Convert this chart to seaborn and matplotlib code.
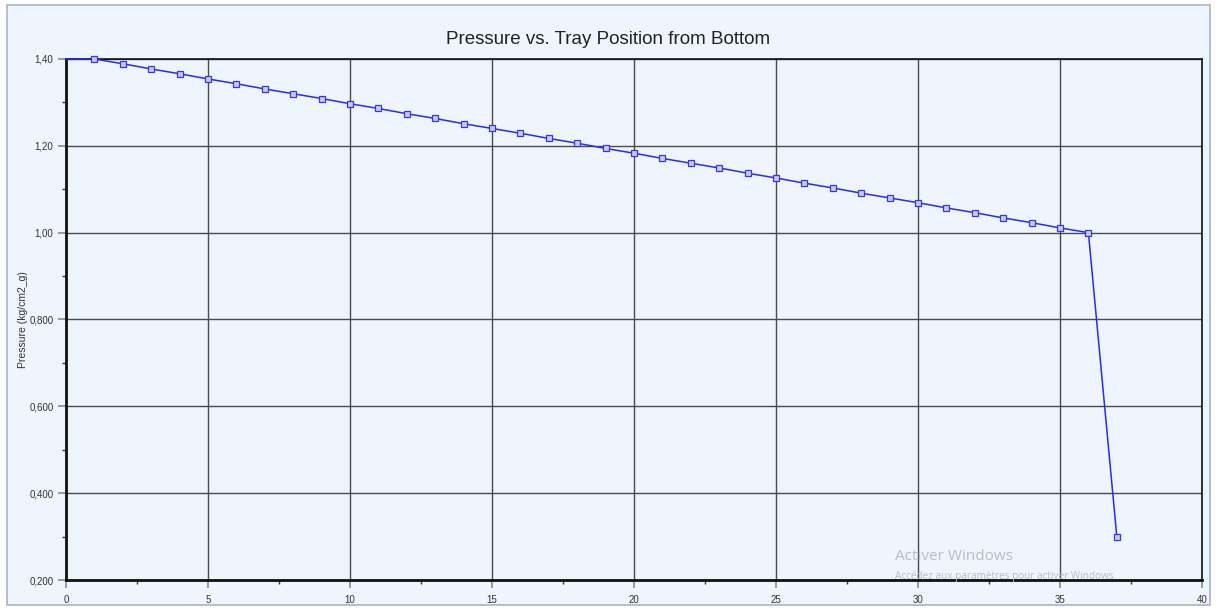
import matplotlib
matplotlib.use("Agg")
import matplotlib.pyplot as plt
import seaborn as sns
import pandas as pd
from matplotlib.patches import Rectangle
from matplotlib.ticker import MultipleLocator

tray_position = list(range(0, 38))
pressure = [1.400, 1.400, 1.389, 1.377, 1.366, 1.354, 1.343, 1.331, 1.320, 1.309,
            1.297, 1.286, 1.274, 1.263, 1.251, 1.240, 1.229, 1.217, 1.206, 1.194,
            1.183, 1.171, 1.160, 1.149, 1.137, 1.126, 1.114, 1.103, 1.091, 1.080,
            1.069, 1.057, 1.046, 1.034, 1.023, 1.011, 1.000, 0.300]
x_ticks = [0, 5, 10, 15, 20, 25, 30, 35, 40]
x_tick_labels = ["0", "5", "10", "15", "20", "25", "30", "35", "40"]
y_ticks = [0.2, 0.4, 0.6, 0.8, 1.0, 1.2, 1.4]
y_tick_labels = ["0,200", "0,400", "0,600", "0,800", "1,00", "1,20", "1,40"]

df = pd.DataFrame({"tray": tray_position, "pressure": pressure})

sns.set_style("white")
plt.rcParams['font.family'] = ['Liberation Sans', 'DejaVu Sans']

bg = "#EEF5FD"
fig = plt.figure(figsize=(12.17, 6.10), dpi=100, facecolor="white")
fig.patches.append(Rectangle((7/1217, 5/610), 1203/1217, 600/610, transform=fig.transFigure,
                             facecolor=bg, edgecolor="#A9B4C2", linewidth=1.2, zorder=-10))
ax = fig.add_axes([66/1217, 1 - 580/610, (1202 - 66)/1217, (580 - 59)/610])
ax.set_zorder(5)
ax.set_facecolor(bg)

sns.lineplot(data=df, x="tray", y="pressure", ax=ax, color="#2A2AF5", linewidth=1.1,
             marker="s", markersize=4.5, markerfacecolor="#C9CCF7", markeredgecolor="#3535F0",
             markeredgewidth=0.9, markevery=slice(1, None), zorder=3, clip_on=False)

ax.set_xlim(0, 40)
ax.set_ylim(0.2, 1.4)
ax.set_xticks(x_ticks)
ax.set_xticklabels(x_tick_labels)
ax.set_yticks(y_ticks)
ax.set_yticklabels(y_tick_labels)
ax.xaxis.set_minor_locator(MultipleLocator(2.5))
ax.yaxis.set_minor_locator(MultipleLocator(0.1))
ax.grid(True, which="major", color="#4A4A4A", linewidth=1.0, zorder=1)
ax.tick_params(axis="both", which="major", direction="out", length=6, width=1.2,
               color="#8A8A8A", labelsize=7, labelcolor="#333333", pad=3,
               bottom=True, left=True)
ax.tick_params(axis="both", which="minor", direction="out", length=3, width=1,
               color="#333333", bottom=True, left=True)
ax.tick_params(axis="x", which="major", pad=5)
for s in ax.spines.values():
    s.set_color("#111111")
    s.set_linewidth(1.2)
ax.spines["left"].set_linewidth(2)
ax.spines["bottom"].set_linewidth(2)

ax.set_xlabel("")
ax.set_ylabel("Pressure (kg/cm2_g)", fontsize=7.5, color="#333333")
ax.yaxis.set_label_coords(-38/1136, 0.5)
fig.text(0.5, 1 - 39/610, "Pressure vs. Tray Position from Bottom", ha="center", va="center",
         fontsize=13.5, color="#222222")

fig.text(895/1217, 1 - 557/610, "Activer Windows", fontsize=11, color="#B8BEC6",
         va="center", ha="left", family=["Open Sans", "DejaVu Sans"], zorder=20)
fig.text(895/1217, 1 - 577/610, "Accédez aux paramètres pour activer Windows.", fontsize=7.2,
         color="#B8BEC6", va="center", ha="left", family=["Open Sans", "DejaVu Sans"], zorder=20)

fig.savefig("out.png", dpi=100, facecolor="white")
